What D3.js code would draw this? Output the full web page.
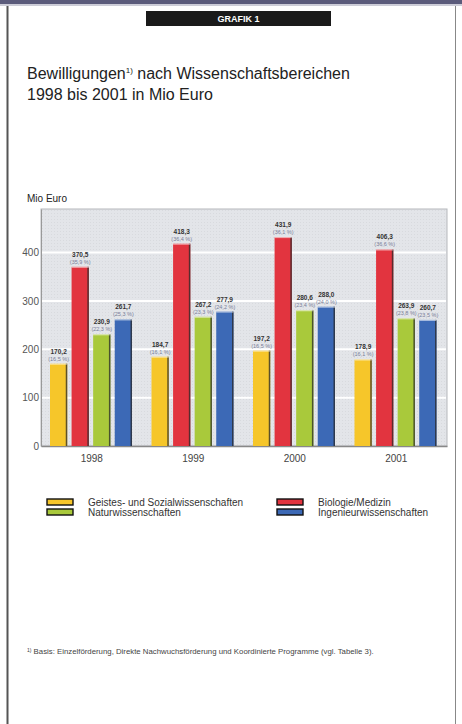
<!DOCTYPE html>
<html><head><meta charset="utf-8">
<script src="https://cdn.jsdelivr.net/npm/d3@7"></script>
<style>
html,body{margin:0;padding:0;background:#fff;}
svg{display:block;}
.narrow{font-family:"Liberation Sans Narrow","Arial Narrow","Liberation Sans",Arial,sans-serif;font-stretch:condensed;}
</style></head>
<body>
<script>
const years = ["1998", "1999", "2000", "2001"];
const seriesNames = ["Geistes- und Sozialwissenschaften", "Biologie/Medizin", "Naturwissenschaften", "Ingenieurwissenschaften"];
const geistes = [170.2, 184.7, 197.2, 178.9];
const biologie = [370.5, 418.3, 431.9, 406.3];
const natur = [230.9, 267.2, 280.6, 263.9];
const ingenieur = [261.7, 277.9, 288.0, 260.7];
const geistesPct = ["16,5", "16,1", "16,5", "16,1"];
const biologiePct = ["35,9", "36,4", "36,1", "36,6"];
const naturPct = ["22,3", "23,3", "23,4", "23,8"];
const ingenieurPct = ["25,3", "24,2", "24,0", "23,5"];
const yTicks = [0, 100, 200, 300, 400];
const colors = ["#f6c62a", "#e2343f", "#a9c93b", "#3c69b6"];

const W = 462, H = 724;
const svg = d3.select("body").append("svg").attr("width", W).attr("height", H);

// page frame
svg.append("rect").attr("x", 0).attr("y", 0).attr("width", W).attr("height", 4).attr("fill", "#5b5b7b");
svg.append("line").attr("x1", 0).attr("x2", W).attr("y1", 5).attr("y2", 5).attr("stroke", "#9a9ab0").attr("stroke-width", 1);
svg.append("line").attr("x1", 7.5).attr("x2", 7.5).attr("y1", 6).attr("y2", H).attr("stroke", "#555").attr("stroke-width", 2);
svg.append("line").attr("x1", 455.5).attr("x2", 455.5).attr("y1", 6).attr("y2", H).attr("stroke", "#888").attr("stroke-width", 1);

// GRAFIK 1 label
svg.append("rect").attr("x", 146).attr("y", 11).attr("width", 185).attr("height", 15).attr("fill", "#1a1a1a");
svg.append("text").attr("x", 238.5).attr("y", 22).attr("text-anchor", "middle")
  .attr("font-family", "Liberation Sans, Arial, sans-serif").attr("font-weight", "bold").attr("font-size", 9).attr("fill", "#fff").text("GRAFIK 1");

// Title
const t1 = svg.append("text").attr("x", 27).attr("y", 79).attr("font-family", "Liberation Sans, Arial, sans-serif").attr("font-size", 16).attr("fill", "#222");
t1.append("tspan").text("Bewilligungen");
t1.append("tspan").attr("dy", -6).attr("font-size", 8).text("1)");
t1.append("tspan").attr("dy", 6).text(" nach Wissenschaftsbereichen");
svg.append("text").attr("x", 27).attr("y", 100).attr("font-family", "Liberation Sans, Arial, sans-serif").attr("font-size", 16).attr("fill", "#222").text("1998 bis 2001 in Mio Euro");

// Chart
const L = 41, R = 447, T = 209, B = 446;
const x0 = d3.scaleBand().domain(years).range([L, R]).paddingInner(0).paddingOuter(0);
const y = d3.scaleLinear().domain([0, 490]).range([B, T]);
const x1 = d3.scaleBand().domain(d3.range(4)).range([9, 91]).paddingInner(0.2);

// background with dotted texture
const defs = svg.append("defs");
const pat = defs.append("pattern").attr("id", "dots").attr("width", 3).attr("height", 3).attr("patternUnits", "userSpaceOnUse");
pat.append("rect").attr("width", 3).attr("height", 3).attr("fill", "#e3e5e9");
pat.append("rect").attr("width", 1).attr("height", 1).attr("fill", "#d8dade");
svg.append("rect").attr("x", L).attr("y", T).attr("width", R - L).attr("height", B - T).attr("fill", "url(#dots)").attr("stroke", "#b5b7bb").attr("stroke-width", 1);

// grid
svg.append("g").selectAll("line").data(yTicks.filter(d => d > 0)).join("line")
  .attr("x1", L + 1).attr("x2", R - 1).attr("y1", d => y(d)).attr("y2", d => y(d))
  .attr("stroke", "#fff").attr("stroke-width", 2);

// y axis
const yAxis = d3.axisLeft(y).tickValues(yTicks).tickSize(0).tickPadding(2);
const ga = svg.append("g").attr("transform", `translate(${L},0)`).call(yAxis);
ga.select(".domain").attr("stroke", "#999");
ga.selectAll("text").attr("class", "narrow").attr("font-size", 10).attr("fill", "#555");

// x axis
const xAxis = d3.axisBottom(x0).tickSize(0).tickPadding(9);
const gx = svg.append("g").attr("transform", `translate(0,${B})`).call(xAxis);
gx.select(".domain").attr("stroke", "#888").attr("stroke-width", 1.5);
gx.selectAll("text").attr("class", "narrow").attr("font-size", 10).attr("fill", "#444");

const series = [geistes, biologie, natur, ingenieur];
const pcts = [geistesPct, biologiePct, naturPct, ingenieurPct];
const fmt = v => v.toFixed(1).replace(".", ",");

years.forEach((yr, i) => {
  const g = svg.append("g").attr("transform", `translate(${x0(yr)},0)`);
  series.forEach((s, k) => {
    const v = s[i];
    const bx = x1(k), bw = x1.bandwidth();
    g.append("rect").attr("x", bx).attr("y", y(v)).attr("width", bw).attr("height", B - y(v)).attr("fill", colors[k]);
    g.append("rect").attr("x", bx + bw - 1.5).attr("y", y(v)).attr("width", 1.5).attr("height", B - y(v)).attr("fill", "#2a2a2a").attr("opacity", 0.75);
    g.append("line").attr("x1", bx).attr("x2", bx + bw).attr("y1", y(v) + 0.5).attr("y2", y(v) + 0.5).attr("stroke", "#fff").attr("stroke-opacity", 0.6);
    g.append("text").attr("class", "narrow").attr("x", bx + bw / 2).attr("y", y(v) - 10).attr("text-anchor", "middle")
      .attr("font-size", 6.5).attr("font-weight", "bold").attr("fill", "#333").text(fmt(v));
    g.append("text").attr("class", "narrow").attr("x", bx + bw / 2).attr("y", y(v) - 3).attr("text-anchor", "middle")
      .attr("font-size", 5.5).attr("fill", "#7a7f99").text("(" + pcts[k][i] + " %)");
  });
});

svg.append("text").attr("class", "narrow").attr("x", 27).attr("y", 202).attr("font-size", 10).attr("fill", "#222").text("Mio Euro");

// legend
const legendPos = [[47, 506], [277, 506], [47, 516], [277, 516]];
seriesNames.forEach((n, k) => {
  const [lx, ly] = legendPos[k];
  svg.append("rect").attr("x", lx).attr("y", ly - 7).attr("width", 26).attr("height", 6).attr("fill", colors[k]).attr("stroke", "#111").attr("stroke-width", 1.4);
  svg.append("text").attr("class", "narrow").attr("x", lx + 41).attr("y", ly).attr("font-size", 10).attr("fill", "#333").text(n);
});

// footnote
const fn = svg.append("text").attr("class", "narrow").attr("x", 27).attr("y", 654).attr("font-size", 7.8).attr("fill", "#444");
fn.append("tspan").attr("font-size", 5).attr("dy", -2).text("1)");
fn.append("tspan").attr("dy", 2).text(" Basis: Einzelförderung, Direkte Nachwuchsförderung und Koordinierte Programme (vgl. Tabelle 3).");
</script>
</body></html>
